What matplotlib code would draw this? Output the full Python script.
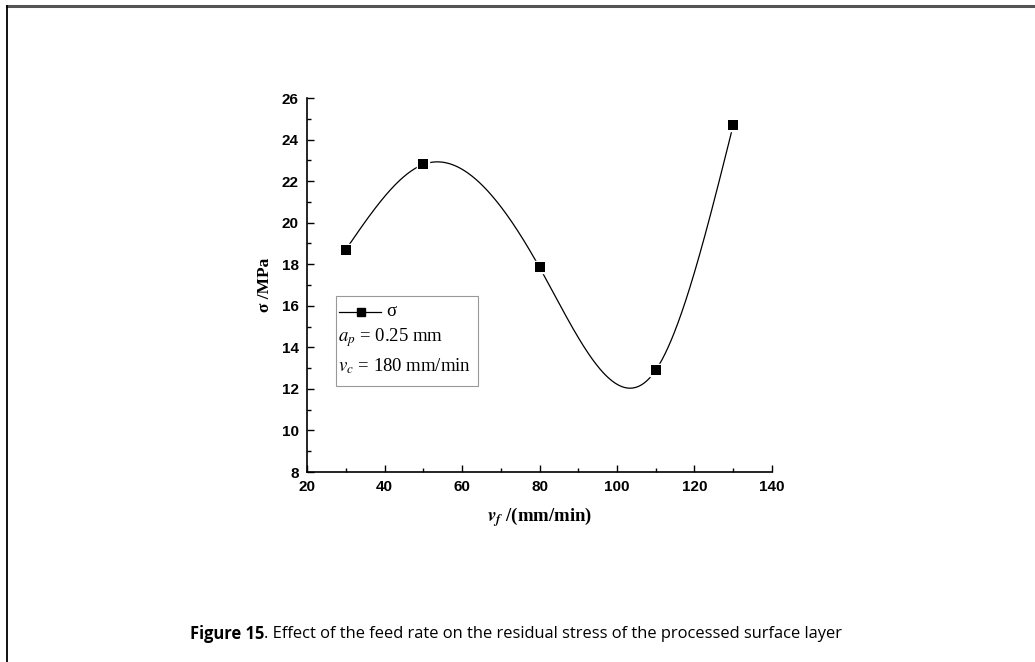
import matplotlib
matplotlib.use("Agg")
import matplotlib.pyplot as plt
import numpy as np
from matplotlib.lines import Line2D
from matplotlib.patches import Rectangle
from matplotlib.ticker import MultipleLocator

# data
feed_rate = [30, 50, 80, 110, 130]          # v_f (mm/min)
stress = [18.7, 22.8, 17.85, 12.9, 24.7]    # sigma (MPa)
x_ticks = [20, 40, 60, 80, 100, 120, 140]
y_ticks = [8, 10, 12, 14, 16, 18, 20, 22, 24, 26]


def natural_spline(x, y, xs):
    x = np.asarray(x, float)
    y = np.asarray(y, float)
    n = len(x)
    h = np.diff(x)
    A = np.zeros((n, n))
    b = np.zeros(n)
    A[0, 0] = A[-1, -1] = 1
    for i in range(1, n - 1):
        A[i, i - 1] = h[i - 1]
        A[i, i] = 2 * (h[i - 1] + h[i])
        A[i, i + 1] = h[i]
        b[i] = 6 * ((y[i + 1] - y[i]) / h[i] - (y[i] - y[i - 1]) / h[i - 1])
    m = np.linalg.solve(A, b)
    idx = np.clip(np.searchsorted(x, xs) - 1, 0, n - 2)
    x0, x1 = x[idx], x[idx + 1]
    hh = x1 - x0
    t0, t1 = x1 - xs, xs - x0
    return (m[idx] * t0**3 / (6 * hh) + m[idx + 1] * t1**3 / (6 * hh)
            + (y[idx] / hh - m[idx] * hh / 6) * t0
            + (y[idx + 1] / hh - m[idx + 1] * hh / 6) * t1)


plt.rcParams['mathtext.fontset'] = 'stix'

fig = plt.figure(figsize=(10.35, 6.62), dpi=100)
ax = fig.add_axes([307 / 1035, 1 - 472 / 662, 465 / 1035, 374 / 662])

xs = np.linspace(feed_rate[0], feed_rate[-1], 400)
ax.plot(xs, natural_spline(feed_rate, stress, xs), color='black', lw=0.9, zorder=2)
ax.plot(feed_rate, stress, 's', color='black', ms=7, mec='white', mew=2.5, zorder=3)
ax.plot(feed_rate, stress, 's', color='black', ms=7, mew=0, zorder=4)

ax.set_xlim(20, 140)
ax.set_ylim(8, 26)
ax.set_xticks(x_ticks)
ax.set_yticks(y_ticks)
ax.xaxis.set_minor_locator(MultipleLocator(10))
ax.yaxis.set_minor_locator(MultipleLocator(1))
ax.tick_params(which='both', direction='in', top=False, right=False, width=1)
ax.tick_params(which='major', length=5, pad=6)
ax.tick_params(which='minor', length=3)
for lab in ax.get_xticklabels() + ax.get_yticklabels():
    lab.set_fontfamily('Liberation Sans')
    lab.set_fontweight('bold')
    lab.set_fontsize(11)
ax.spines['top'].set_visible(False)
ax.spines['right'].set_visible(False)
for s in ('left', 'bottom'):
    ax.spines[s].set_linewidth(1.2)

ax.set_xlabel(r'$\mathbfit{v}_{\mathbfit{f}}$ /(mm/min)', fontfamily='Liberation Serif',
              fontweight='bold', fontsize=13.5, labelpad=8)
ax.set_ylabel('σ /MPa', fontfamily='Liberation Serif', fontweight='bold',
              fontsize=12.5, labelpad=6)

# legend box drawn by hand to hold the extra condition lines
def axc(px, py):
    return (px - 307) / 465, (472 - py) / 374

bx0, by0 = axc(336, 386)
bx1, by1 = axc(478, 296)
ax.add_patch(Rectangle((bx0, by0), bx1 - bx0, by1 - by0, transform=ax.transAxes,
                       fill=False, edgecolor='#999999', lw=0.8, zorder=5))
lx0, ly = axc(339, 312)
lx1, _ = axc(381, 312)
ax.add_line(Line2D([lx0, lx1], [ly, ly], color='black', lw=0.9, transform=ax.transAxes,
                   zorder=6))
mx, _ = axc(361, 312)
ax.plot([mx], [ly], 's', color='black', ms=6, transform=ax.transAxes, zorder=6)
tx, _ = axc(386, 312)
ax.text(tx, ly, 'σ', transform=ax.transAxes, fontfamily='Liberation Serif',
        fontsize=13.5, va='center', ha='left')
t2x, t2y = axc(338, 338)
ax.text(t2x, t2y, r'$a_{p}$ = 0.25 mm', transform=ax.transAxes,
        fontfamily='Liberation Serif', fontsize=13.5, va='center', ha='left')
t3x, t3y = axc(338, 366)
ax.text(t3x, t3y, r'$v_{c}$ = 180 mm/min', transform=ax.transAxes,
        fontfamily='Liberation Serif', fontsize=13.5, va='center', ha='left')

# page frame
fig.add_artist(Line2D([7 / 1035, 1], [1 - 6 / 662, 1 - 6 / 662], color='#555555', lw=2.2,
                      transform=fig.transFigure))
fig.add_artist(Line2D([7 / 1035, 7 / 1035], [0, 1 - 6 / 662], color='black', lw=1.3,
                      transform=fig.transFigure))

# caption: bold figure number followed by regular text
cy = 1 - 634 / 662
t_bold = fig.text(190 / 1035, cy, 'Figure 15', fontfamily='Open Sans', fontweight='bold',
                  fontsize=11.9, va='center', ha='left')
fig.canvas.draw()
bb = t_bold.get_window_extent()
fig.text(bb.x1 / fig.bbox.width, cy, '. Effect of the feed rate on the residual stress of the processed surface layer',
         fontfamily='Open Sans', fontsize=11.9, va='center', ha='left')

fig.savefig('out.png', dpi=100)
